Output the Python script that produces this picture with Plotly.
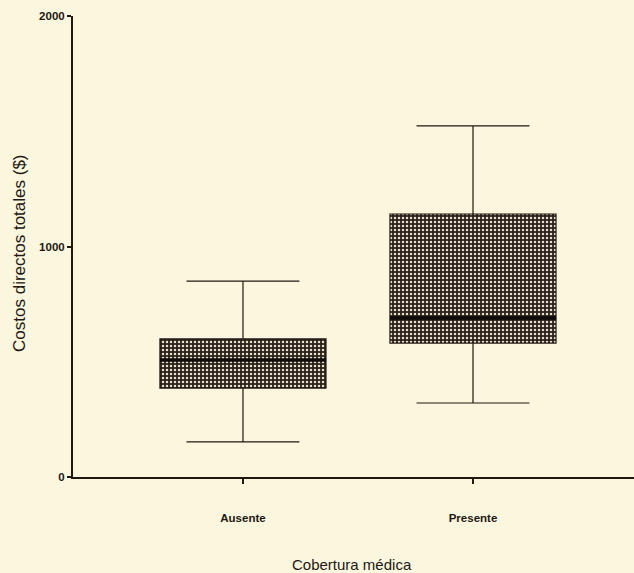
import plotly.graph_objects as go

categories = ["Ausente", "Presente"]
lower_whisker = [152, 321]
q1 = [386, 581]
median = [508, 690]
q3 = [599, 1141]
upper_whisker = [850, 1523]
y_ticks = [0, 1000, 2000]

BG = "#fbf6de"
INK = "#221812"
box_w = 0.722
pos = list(range(len(categories)))

fig = go.Figure()

# patterned box bodies
fig.add_trace(go.Bar(
    x=pos, base=q1, y=[b - a for a, b in zip(q1, q3)], width=box_w,
    marker=dict(color="#2a211c", line=dict(width=0),
                pattern=dict(shape=".", size=4, solidity=0.3,
                             fgcolor="#ebe3c8", bgcolor="#2a211c", fillmode="replace")),
    showlegend=False, hoverinfo="skip"))

# box outlines and whiskers
fig.add_trace(go.Box(
    x=pos, q1=q1, median=median, q3=q3,
    lowerfence=lower_whisker, upperfence=upper_whisker,
    width=box_w, whiskerwidth=0.68, boxpoints=False,
    fillcolor="rgba(0,0,0,0)", line=dict(color=INK, width=1.2),
    showlegend=False))

# thick median lines
for i, m in zip(pos, median):
    fig.add_trace(go.Scatter(
        x=[i - box_w / 2, i + box_w / 2], y=[m, m], mode="lines",
        line=dict(color="#0e0a08", width=3.5), showlegend=False, hoverinfo="skip"))

fig.update_layout(
    width=634, height=573,
    margin=dict(l=73, r=0, t=16, b=96),
    paper_bgcolor=BG, plot_bgcolor=BG,
    font=dict(family="Liberation Sans, Arial, sans-serif", color=INK, size=12),
    bargap=0,
    xaxis=dict(range=[-0.739, 1.700], tickvals=pos, ticktext=categories,
               showline=True, linecolor=INK, linewidth=2, showgrid=False, zeroline=False,
               ticks="outside", ticklen=5, tickwidth=2, tickcolor=INK,
               ticklabelstandoff=24, tickfont=dict(size=11.5, weight="bold")),
    yaxis=dict(range=[0, 2000], tickvals=y_ticks,
               showline=True, linecolor=INK, linewidth=2, showgrid=False, zeroline=False,
               ticks="outside", ticklen=4, tickwidth=2, tickcolor=INK,
               ticklabelstandoff=0, tickfont=dict(size=11.5, weight="bold")),
    annotations=[
        dict(text="Cobertura médica", xref="paper", yref="paper", x=0.497, y=-0.189,
             xanchor="center", yanchor="middle", showarrow=False, font=dict(size=15)),
        dict(text="Costos directos totales ($)", xref="paper", yref="paper",
             x=-0.0945, y=0.486, xanchor="center", yanchor="middle", textangle=-90,
             showarrow=False, font=dict(size=17)),
    ],
)

fig.write_html("out.html", config={"displayModeBar": False},
               post_script="document.body.style.margin='0';document.body.style.overflow='hidden';"
                           "document.body.style.background='" + BG + "';")
